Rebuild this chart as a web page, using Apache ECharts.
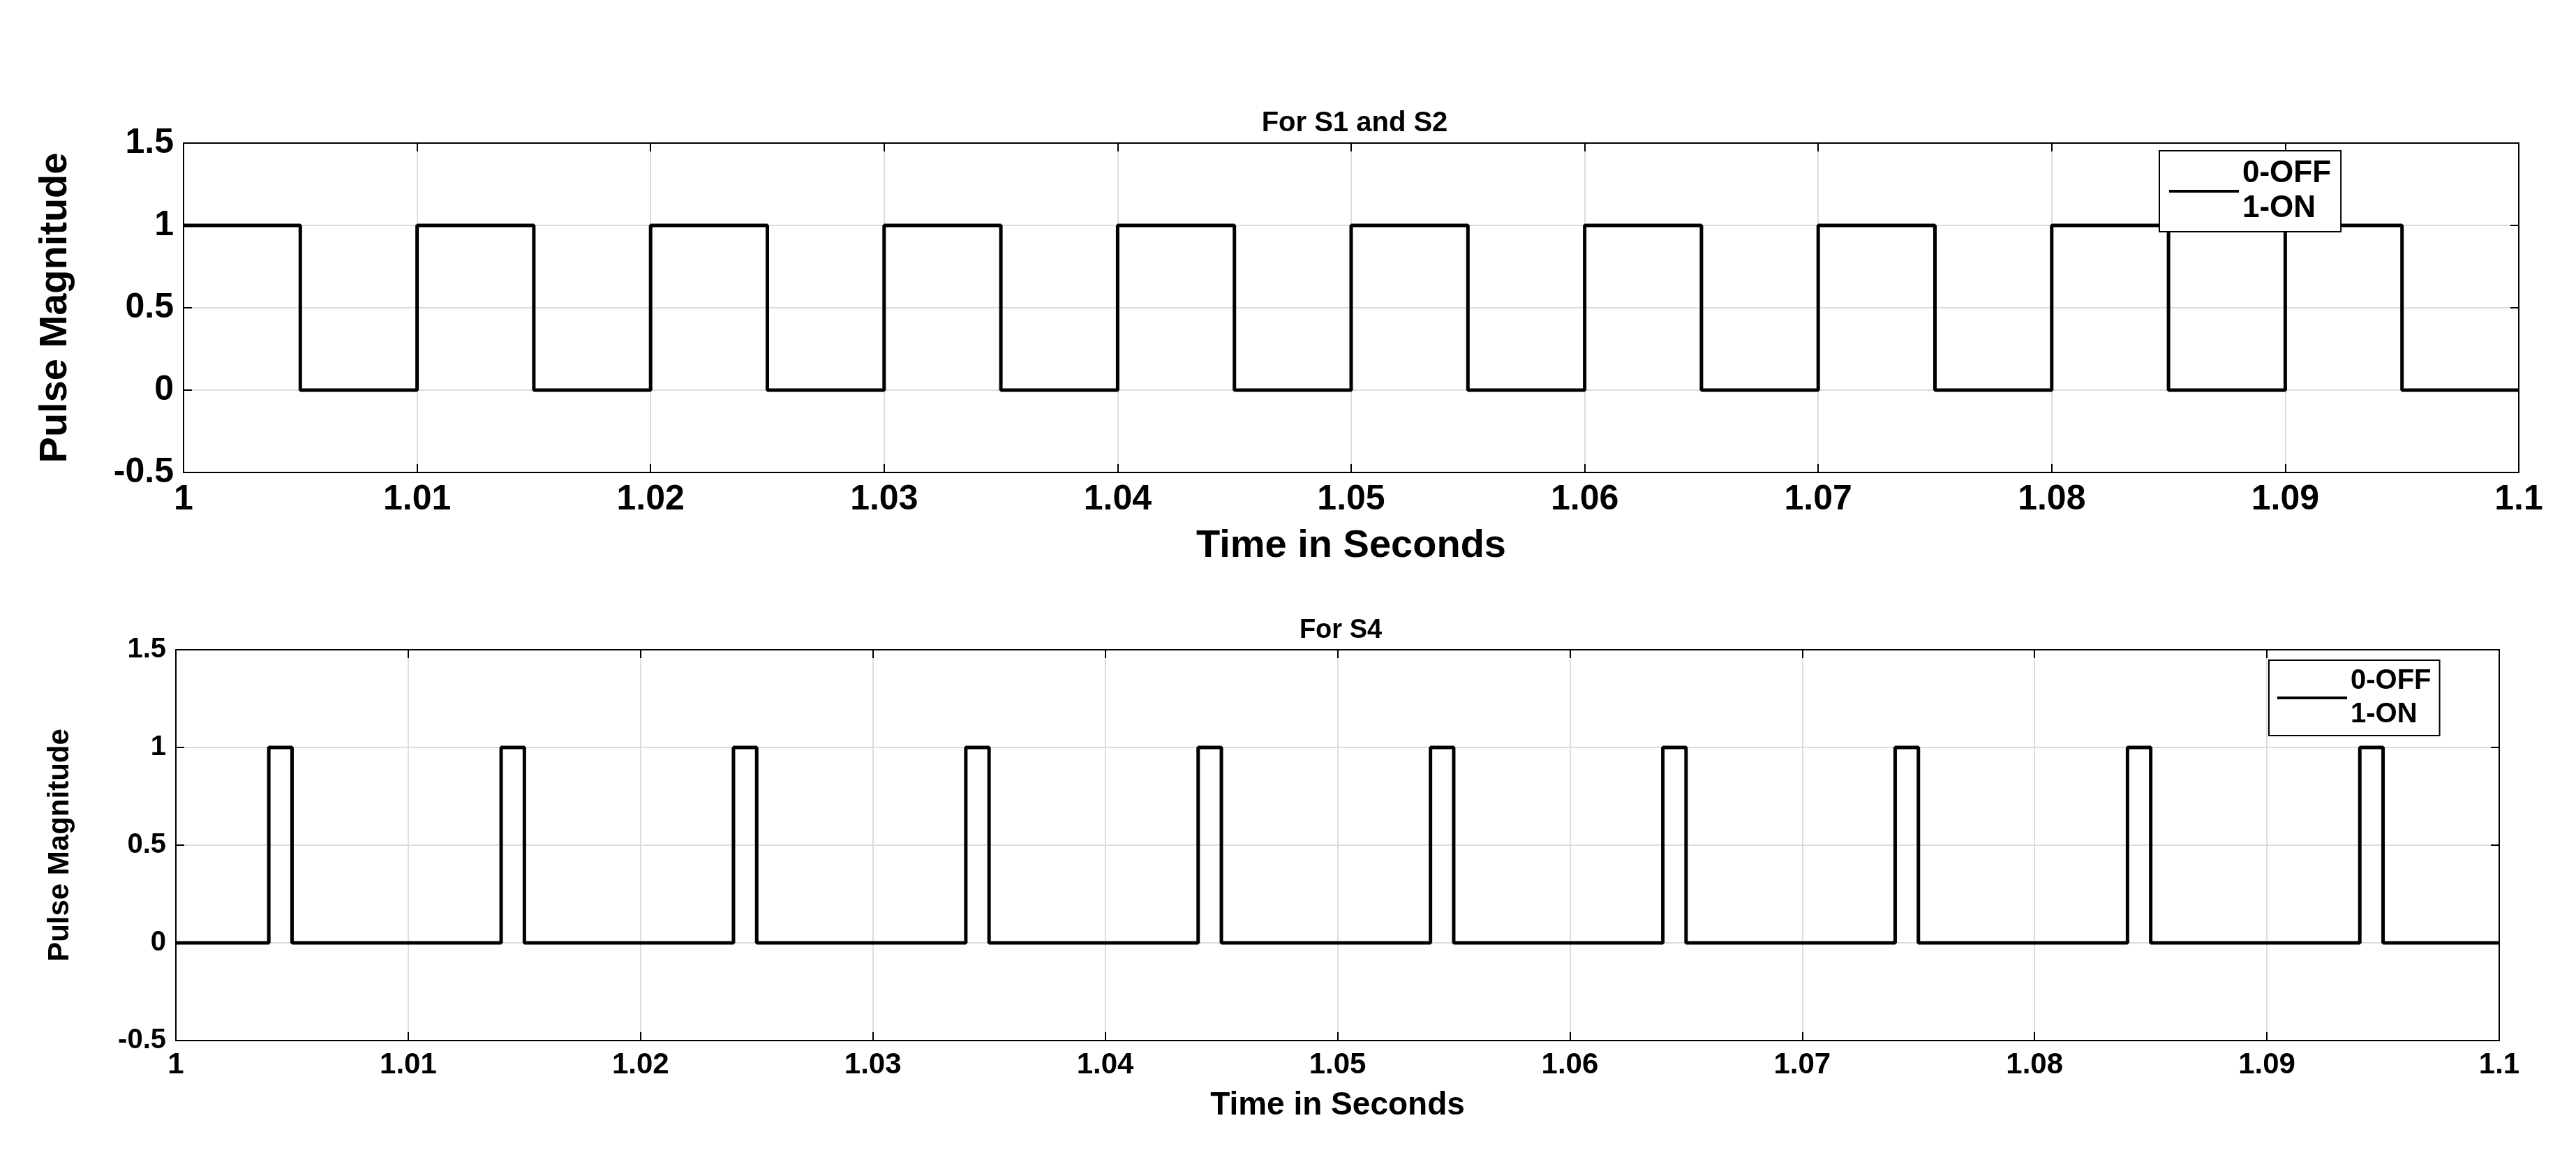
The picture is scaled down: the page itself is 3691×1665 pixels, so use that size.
<!DOCTYPE html>
<html><head><meta charset="utf-8">
<script src="https://cdn.jsdelivr.net/npm/echarts@6/dist/echarts.min.js"></script>
<style>html,body{margin:0;background:#fff}#c{width:3691px;height:1665px}</style>
</head><body><div id="c"></div>
<script>
var s12Times = [1, 1.005, 1.01, 1.015, 1.02, 1.025, 1.03, 1.035, 1.04, 1.045, 1.05, 1.055, 1.06, 1.065, 1.07, 1.075, 1.08, 1.085, 1.09, 1.095, 1.1];
var s12Values = [1, 0, 1, 0, 1, 0, 1, 0, 1, 0, 1, 0, 1, 0, 1, 0, 1, 0, 1, 0, 0];
var s4Times = [1, 1.004, 1.005, 1.014, 1.015, 1.024, 1.025, 1.034, 1.035, 1.044, 1.045, 1.054, 1.055, 1.064, 1.065, 1.074, 1.075, 1.084, 1.085, 1.094, 1.095, 1.1];
var s4Values = [0, 1, 0, 1, 0, 1, 0, 1, 0, 1, 0, 1, 0, 1, 0, 1, 0, 1, 0, 1, 0, 0];
var xTicks = ['1', '1.01', '1.02', '1.03', '1.04', '1.05', '1.06', '1.07', '1.08', '1.09', '1.1'];
var legendName = '0-OFF\n1-ON';

function pairs(t, v) { return t.map(function (x, i) { return [x, v[i]]; }); }
var F = 'Liberation Sans, Arial, sans-serif';

function xAxis(idx, fs, nfs, ngap) {
  return {
    gridIndex: idx, type: 'value', min: 1, max: 1.1, interval: 0.01,
    name: 'Time in Seconds', nameLocation: 'middle', nameGap: ngap,
    nameTextStyle: {fontFamily: F, fontWeight: 'bold', fontSize: nfs, color: '#000'},
    axisLine: {onZero: false, lineStyle: {color: '#000', width: 2}},
    axisTick: {inside: true, length: 12, lineStyle: {color: '#000', width: 2}},
    axisLabel: {fontFamily: F, fontWeight: 'bold', fontSize: fs, color: '#000', margin: 14,
      formatter: function (v) { var i = Math.round((v - 1) * 100); return xTicks[i]; }},
    splitLine: {show: true, lineStyle: {color: '#ddd', width: 2}}
  };
}
function yAxis(idx, fs, nfs, ngap) {
  return {
    gridIndex: idx, type: 'value', min: -0.5, max: 1.5, interval: 0.5,
    name: 'Pulse Magnitude', nameLocation: 'middle', nameGap: ngap,
    nameTextStyle: {fontFamily: F, fontWeight: 'bold', fontSize: nfs, color: '#000'},
    axisLine: {show: true, onZero: false, lineStyle: {color: '#000', width: 2}},
    axisTick: {show: true, inside: true, length: 12, lineStyle: {color: '#000', width: 2}},
    axisLabel: {fontFamily: F, fontWeight: 'bold', fontSize: fs, color: '#000', margin: 14},
    splitLine: {show: true, lineStyle: {color: '#ddd', width: 2}}
  };
}
function frameAxis(idx, type) {
  return type === 'x'
    ? {gridIndex: idx, type: 'value', min: 1, max: 1.1, position: 'top', axisLine: {onZero: false, lineStyle: {color: '#000', width: 2}}, axisTick: {inside: true, length: 12, lineStyle: {color: '#000', width: 2}}, interval: 0.01, axisLabel: {show: false}, splitLine: {show: false}}
    : {gridIndex: idx, type: 'value', min: -0.5, max: 1.5, position: 'right', axisLine: {show: true, onZero: false, lineStyle: {color: '#000', width: 2}}, axisTick: {show: true, inside: true, length: 12, lineStyle: {color: '#000', width: 2}}, interval: 0.5, axisLabel: {show: false}, splitLine: {show: false}};
}

var chart = echarts.init(document.getElementById('c'));
chart.setOption({
  backgroundColor: '#fff',
  animation: false,
  title: [
    {text: 'For S1 and S2', left: 1936, top: 152, textAlign: 'center', textStyle: {fontFamily: F, fontWeight: 'bold', fontSize: 40, color: '#000'}},
    {text: 'For S4', left: 1916, top: 880, textAlign: 'center', textStyle: {fontFamily: F, fontWeight: 'bold', fontSize: 38, color: '#000'}}
  ],
  legend: [
    {top: 216, left: 3094, orient: 'vertical', data: [legendName], backgroundColor: '#fff', borderColor: '#000', borderWidth: 2, padding: [8, 14], itemWidth: 100, itemHeight: 4, icon: 'rect', textStyle: {fontFamily: F, fontWeight: 'bold', fontSize: 44, color: '#000', lineHeight: 50}},
    {top: 946, left: 3251, orient: 'vertical', data: [legendName], backgroundColor: '#fff', borderColor: '#000', borderWidth: 2, padding: [6, 12], itemWidth: 100, itemHeight: 4, icon: 'rect', textStyle: {fontFamily: F, fontWeight: 'bold', fontSize: 40, color: '#000', lineHeight: 48}}
  ],
  grid: [
    {left: 263, right: 3691 - 3609, top: 205, height: 472},
    {left: 252, right: 3691 - 3581, top: 931, height: 560}
  ],
  xAxis: [xAxis(0, 50, 56, 78), xAxis(1, 42, 46, 70), frameAxis(0, 'x'), frameAxis(1, 'x')],
  yAxis: [yAxis(0, 50, 56, 155), yAxis(1, 40, 42, 145), frameAxis(0, 'y'), frameAxis(1, 'y')],
  series: [
    {name: legendName, type: 'line', xAxisIndex: 0, yAxisIndex: 0, step: 'end', showSymbol: false, data: pairs(s12Times, s12Values), lineStyle: {color: '#000', width: 5}, itemStyle: {color: '#000'}},
    {name: legendName, type: 'line', xAxisIndex: 1, yAxisIndex: 1, step: 'end', showSymbol: false, data: pairs(s4Times, s4Values), lineStyle: {color: '#000', width: 5}, itemStyle: {color: '#000'}}
  ]
});
</script></body></html>
